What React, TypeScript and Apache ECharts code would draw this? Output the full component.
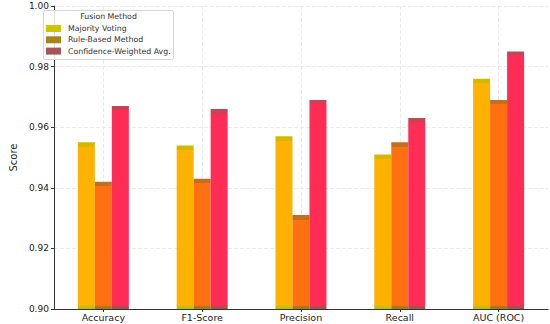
import React, { useEffect, useRef } from "react";
import * as echarts from "echarts";

const categories = ["Accuracy", "F1-Score", "Precision", "Recall", "AUC (ROC)"];
const seriesNames = ["Majority Voting", "Rule-Based Method", "Confidence-Weighted Avg."];
const majorityVoting = [0.955, 0.954, 0.957, 0.951, 0.976];
const ruleBased = [0.942, 0.943, 0.931, 0.955, 0.969];
const confidenceWeighted = [0.967, 0.966, 0.969, 0.963, 0.985];
const yTicks = [0.9, 0.92, 0.94, 0.96, 0.98, 1.0];

const mainColors = ["#FFB300", "#FF7010", "#FF2D55"];
const capColors = ["#D4B800", "#C07020", "#CC4255"];
const bottomColors = ["#BCC010", "#A8781A", "#A85050"];
const legendColors = ["#CCC600", "#A8841C", "#A55555"];

const PLOT_H = 303;
const Y_MIN = yTicks[0];
const Y_MAX = yTicks[yTicks.length - 1];

function makeItem(v: number, idx: number) {
  const h = ((v - Y_MIN) / (Y_MAX - Y_MIN)) * PLOT_H;
  const t = Math.min(0.5, 4.5 / h);
  const b = Math.max(0.5, 1 - 3 / h);
  return {
    value: v,
    itemStyle: {
      color: {
        type: "linear",
        x: 0,
        y: 0,
        x2: 0,
        y2: 1,
        colorStops: [
          { offset: 0, color: capColors[idx] },
          { offset: t, color: capColors[idx] },
          { offset: t, color: mainColors[idx] },
          { offset: b, color: mainColors[idx] },
          { offset: b, color: bottomColors[idx] },
          { offset: 1, color: bottomColors[idx] },
        ],
      },
    },
  };
}

const FONT = "DejaVu Sans";

export default function App() {
  const ref = useRef<HTMLDivElement>(null);
  useEffect(() => {
    if (!ref.current) return;
    const chart = echarts.init(ref.current, undefined, { renderer: "svg" });
    const values = [majorityVoting, ruleBased, confidenceWeighted];
    const gridCats = Array.from({ length: categories.length * 2 + 1 }, () => "");
    chart.setOption({
      animation: false,
      backgroundColor: "#ffffff",
      grid: { left: 40, right: 2, top: 6, bottom: 15, containLabel: false },
      xAxis: [
        {
          type: "category",
          data: categories,
          axisLine: { lineStyle: { color: "#333", width: 1 } },
          axisTick: { show: true, alignWithLabel: true, length: 3, lineStyle: { color: "#333" } },
          axisLabel: { color: "#222", fontFamily: FONT, fontSize: 9.5, margin: 3 },
          splitLine: { show: false },
        },
        {
          type: "category",
          data: gridCats,
          boundaryGap: false,
          position: "bottom",
          axisLine: { show: false },
          axisTick: { show: false },
          axisLabel: { show: false },
          splitLine: {
            show: true,
            interval: (i: number) => i % 2 === 1,
            lineStyle: { color: "#e4e4e4", type: [4, 2], width: 0.8 },
          },
        },
      ],
      yAxis: {
        type: "value",
        min: Y_MIN,
        max: Y_MAX,
        interval: 0.02,
        name: "Score",
        nameLocation: "middle",
        nameGap: 32,
        nameTextStyle: { color: "#222", fontFamily: FONT, fontSize: 10 },
        axisLine: { show: true, lineStyle: { color: "#333", width: 1 } },
        axisTick: { show: true, length: 3, lineStyle: { color: "#333" } },
        axisLabel: {
          color: "#222",
          fontFamily: FONT,
          fontSize: 9,
          margin: 5,
          formatter: (v: number) => v.toFixed(2),
        },
        splitLine: { show: true, lineStyle: { color: "#e4e4e4", type: [4, 2], width: 0.8 } },
      },
      legend: {
        orient: "vertical",
        left: 46,
        top: 24.5,
        itemWidth: 15,
        itemHeight: 7,
        itemGap: 3.3,
        padding: 0,
        icon: "rect",
        data: seriesNames,
        textStyle: { color: "#333", fontFamily: FONT, fontSize: 7.8, lineHeight: 8, padding: [0, 0, 0, 2] },
        z: 10,
      },
      graphic: [
        {
          type: "rect",
          shape: { x: 43.5, y: 10.5, width: 130, height: 49, r: 2 },
          style: { fill: "rgba(255,255,255,0.85)", stroke: "#d5d5d5", lineWidth: 1 },
          z: 9,
          silent: true,
        },
        {
          type: "text",
          x: 108.5,
          y: 16.5,
          style: {
            text: "Fusion Method",
            fill: "#333",
            font: `7.8px "${FONT}"`,
            align: "center",
            verticalAlign: "middle",
          },
          z: 11,
          silent: true,
        },
      ],
      series: seriesNames.map((name, idx) => ({
        name,
        type: "bar",
        xAxisIndex: 0,
        barWidth: 17,
        barGap: "0%",
        itemStyle: { color: legendColors[idx] },
        data: values[idx].map((v) => makeItem(v, idx)),
        z: 2,
      })),
    });
    return () => chart.dispose();
  }, []);
  return (
    <div
      ref={ref}
      style={{ position: "fixed", left: 0, top: 0, width: 550, height: 324 }}
    />
  );
}
